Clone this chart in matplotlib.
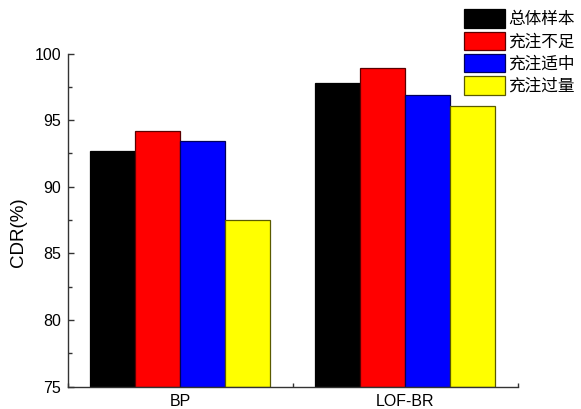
import matplotlib
matplotlib.use("Agg")
import matplotlib.pyplot as plt
import numpy as np
from matplotlib.ticker import MultipleLocator, FixedLocator

categories = ["BP", "LOF-BR"]
series_names = ["总体样本", "充注不足", "充注适中", "充注过量"]
series_colors = ["#000000", "#ff0000", "#0000ff", "#ffff00"]
edge_colors = ["#000000", "#5a0000", "#00005a", "#5a5a00"]
values = {
    "总体样本": [92.7, 97.8],
    "充注不足": [94.2, 98.9],
    "充注适中": [93.45, 96.88],
    "充注过量": [87.5, 96.05],
}

plt.rcParams['font.family'] = ['Liberation Sans', 'Noto Sans CJK SC', 'DejaVu Sans']

fig = plt.figure(figsize=(5.81, 4.09), dpi=100)
ax = fig.add_axes([68/581, 1 - 386.7/409, (517.5 - 68)/581, (386.7 - 53.5)/409])

x = np.arange(len(categories)) + 0.5
width = 0.2
offsets = (np.arange(len(series_names)) - 1.5) * width
handles = []
for i, name in enumerate(series_names):
    b = ax.bar(x + offsets[i], np.array(values[name]) - 75, width, bottom=75,
               color=series_colors[i], edgecolor=edge_colors[i], linewidth=0.9,
               label=name)
    handles.append(b)

ax.set_xlim(0, 2)
ax.set_ylim(75, 100)
ax.set_xticks(x)
ax.set_xticklabels(categories, fontsize=11.5)
ax.xaxis.set_minor_locator(FixedLocator([0, 1, 2]))
ax.tick_params(axis='x', which='major', length=0, pad=5)
ax.tick_params(axis='x', which='minor', direction='in', length=3, width=1, color='#333333')
ax.yaxis.set_major_locator(MultipleLocator(5))
ax.yaxis.set_minor_locator(MultipleLocator(2.5))
ax.tick_params(axis='y', which='major', direction='in', length=4.5, width=1, labelsize=11.5, pad=5, color='#333333')
ax.tick_params(axis='y', which='minor', direction='in', length=3, width=1, color='#333333')
ax.set_ylabel("CDR(%)", fontsize=13.5)
ax.yaxis.set_label_coords(-0.091, 0.464)

for s in ['top', 'right']:
    ax.spines[s].set_visible(False)
for s in ['left', 'bottom']:
    ax.spines[s].set_color('#333333')
    ax.spines[s].set_linewidth(1.0)

leg = fig.legend(handles=handles, labels=series_names, loc='upper left',
                 bbox_to_anchor=(461/581, 1 - 6/409), frameon=False,
                 prop={'family': ['Noto Sans CJK SC'], 'size': 12},
                 handlelength=2.45, handleheight=1.3, handletextpad=0.2,
                 labelspacing=0.22, borderpad=0.2, borderaxespad=0)

fig.savefig("out.png", dpi=100)
